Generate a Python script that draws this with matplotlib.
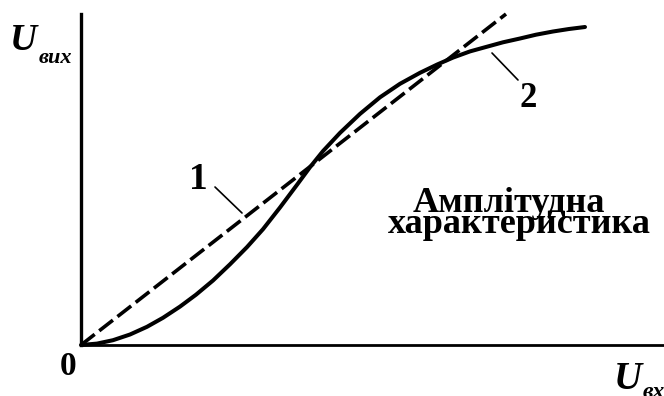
import matplotlib
matplotlib.use("Agg")
import matplotlib.pyplot as plt

# Amplitude characteristic: ideal linear response (1) and real S-shaped response (2)
u_in_real = [0.00, 0.16, 0.32, 0.49, 0.66, 0.82, 0.99, 1.15, 1.32, 1.49, 1.66,
             1.82, 1.99, 2.16, 2.29, 2.42, 2.59, 2.79, 2.99, 3.19, 3.39, 3.56,
             3.72, 3.89, 4.06, 4.22, 4.39, 4.55, 4.72, 4.88, 5.04]
u_out_real = [0.000, 0.014, 0.048, 0.105, 0.182, 0.272, 0.384, 0.503, 0.645,
              0.807, 0.979, 1.158, 1.375, 1.602, 1.778, 1.939, 2.121, 2.311,
              2.477, 2.612, 2.722, 2.804, 2.874, 2.936, 2.983, 3.027, 3.065,
              3.103, 3.135, 3.160, 3.180]

u_in_ideal = [0.00, 4.25]
u_out_ideal = [0.00, 3.31]

W, H = 664, 396
fig = plt.figure(figsize=(W / 100, H / 100), dpi=100)
ax = fig.add_axes([81 / W, 51 / H, 583 / W, 331 / H])
ax.set_xlim(0, 5.83)
ax.set_ylim(0, 3.31)
for side in ("top", "right"):
    ax.spines[side].set_visible(False)
ax.spines["left"].set_linewidth(2.4)
ax.spines["bottom"].set_linewidth(2.0)
ax.set_xticks([])
ax.set_yticks([])

ax.plot(u_in_ideal, u_out_ideal, color="black", lw=2.6,
        dashes=(4.8, 1.6), dash_capstyle="butt", clip_on=False)
ax.plot(u_in_real, u_out_real, color="black", lw=2.9,
        solid_joinstyle="round", solid_capstyle="round", clip_on=False)

serif = ["Liberation Serif", "DejaVu Serif"]

# curve labels with leader lines
ax.annotate("", xy=(1.61, 1.32), xytext=(1.34, 1.58),
            arrowprops=dict(arrowstyle="-", lw=1.2, color="black",
                            shrinkA=0, shrinkB=0))
ax.text(1.17, 1.56, "1", ha="center", va="baseline", fontsize=27,
        fontweight="bold", family=serif)
ax.annotate("", xy=(4.37, 2.65), xytext=(4.11, 2.92),
            arrowprops=dict(arrowstyle="-", lw=1.2, color="black",
                            shrinkA=0, shrinkB=0))
ax.text(4.47, 2.38, "2", ha="center", va="baseline", fontsize=25,
        fontweight="bold", family=serif)

ax.text(3.32, 1.33, "Амплітудна", ha="left", va="baseline", fontsize=26,
        fontweight="bold", family=serif)
ax.text(3.07, 1.12, "характеристика", ha="left", va="baseline", fontsize=26,
        fontweight="bold", family=serif)

# axis captions
fig.text(68 / W, 1 - 375 / H, "0", ha="center", va="baseline", fontsize=24,
         fontweight="bold", family=serif)
fig.text(10 / W, 1 - 50 / H, "U", ha="left", va="baseline", fontsize=27,
         fontweight="bold", style="italic", family=serif)
fig.text(39 / W, 1 - 63 / H, "вих", ha="left", va="baseline", fontsize=16,
         fontweight="bold", style="italic", family=serif)
fig.text(614 / W, 1 - 389 / H, "U", ha="left", va="baseline", fontsize=28,
         fontweight="bold", style="italic", family=serif)
fig.text(643 / W, 1 - 398 / H, "вх", ha="left", va="baseline", fontsize=17,
         fontweight="bold", style="italic", family=serif)

fig.savefig("out.png", dpi=100)
